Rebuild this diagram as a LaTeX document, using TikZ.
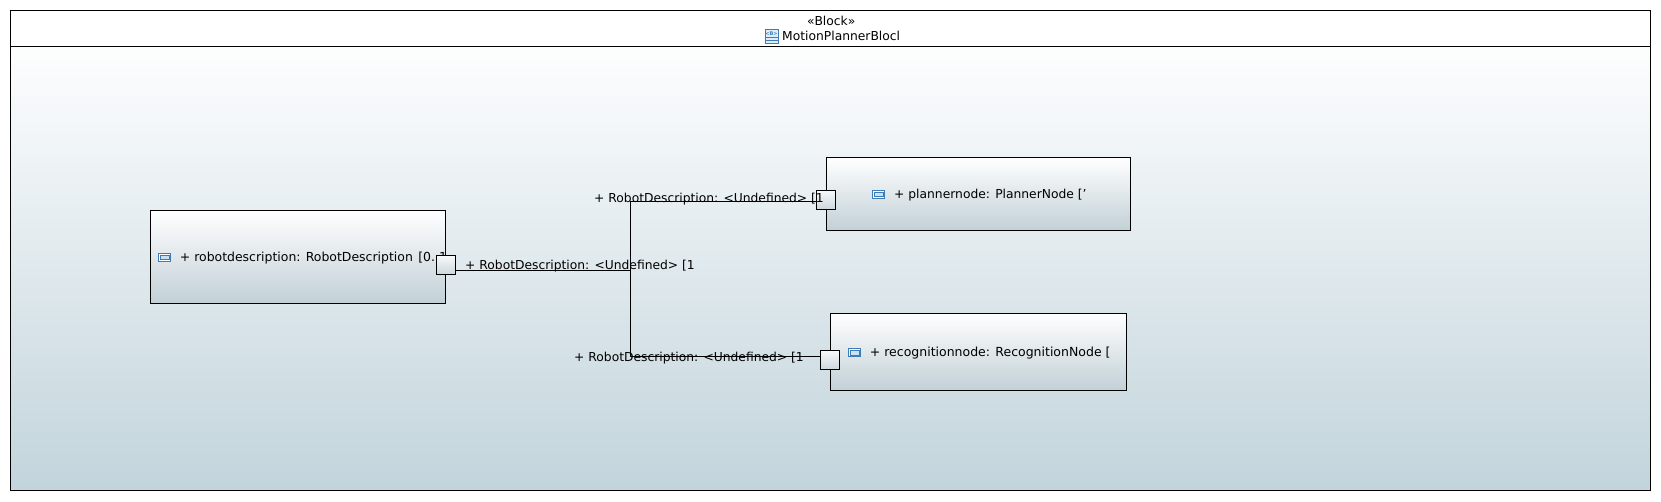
\documentclass[tikz,border=0pt]{standalone}
\usepackage{fontspec}
\setmainfont{DejaVu Sans}
\usepackage{tikz}
\usetikzlibrary{positioning}
\definecolor{bluegrey}{RGB}{194, 212, 220}
\definecolor{partgrey}{RGB}{194, 208, 214}
\definecolor{iconblue}{RGB}{62, 124, 184}
\definecolor{iconfill}{RGB}{200, 224, 244}
\tikzset{
    umltext/.style={font=\fontsize{12.3}{14}\selectfont, anchor=base west, inner sep=0pt},
    partbox/.style={draw=black, line width=0.9pt, rectangle, inner sep=0pt, outer sep=0pt, top color=white, bottom color=partgrey},
    portbox/.style={partbox, minimum width=19.7pt, minimum height=19.5pt, top color=white!90!partgrey, bottom color=white!15!partgrey},
    particon/.style={draw=iconblue, line width=0.9pt, rectangle, inner sep=0pt, outer sep=0pt, minimum width=12.4pt, minimum height=8.4pt, fill=white},
    partinner/.style={draw=iconblue, line width=0.6pt, rectangle, inner sep=0pt, outer sep=0pt, minimum width=8.6pt, minimum height=4.6pt, fill=iconfill},
    wire/.style={draw=black, line width=0.9pt}
}
\begin{document}
\begin{tikzpicture}[x=1pt, y=-1pt]
    \useasboundingbox (0,0) rectangle (1661,501);

    % Frame
    \node[partbox, top color=white!97!bluegrey, bottom color=bluegrey, minimum width=1640pt, minimum height=444pt] (body) at (830.5,268) {};
    \node[draw=black, line width=0.9pt, fill=white, rectangle, inner sep=0pt, outer sep=0pt, minimum width=1640pt, minimum height=35.5pt] (head) at (830.5,28.25) {};
    \node[umltext] (stereo) at (807,25) {«Block»};
    \node[umltext] (title) at (782,40.7) {MotionPlannerBlocl};

    % Block icon
    \node[draw=iconblue, line width=0.9pt, fill=iconfill!60, rectangle, inner sep=0pt, outer sep=0pt, minimum width=13pt, minimum height=14.4pt] (blockicon) at (771.5,36.5) {};
    \draw[iconblue, line width=0.7pt] ([yshift=-1pt]blockicon.west) -- ([yshift=-1pt]blockicon.east);
    \draw[iconblue, line width=0.7pt] ([yshift=-3.8pt]blockicon.west) -- ([yshift=-3.8pt]blockicon.east);
    \node[font=\fontsize{5}{5}\selectfont\bfseries, text=iconblue, inner sep=0pt] (blockmark) at (771.5,33.2) {<B>};

    % Parts
    \node[partbox, minimum width=295pt, minimum height=93pt] (robot) at (298,257) {};
    \node[partbox, minimum width=304pt, minimum height=73pt] (planner) at (978.5,194) {};
    \node[partbox, minimum width=296pt, minimum height=77pt] (recog) at (978.5,352) {};

    % Part labels
    \node[particon] (roboticon) at (164.5,257.3) {};
    \node[partinner] (robotinner) at (roboticon) {};
    \node[umltext, font=\fontsize{12.45}{14}\selectfont] (robotlabel) at (179.7,261.3) {+ robotdescription: RobotDescription\kern1.5pt{} [0..1};

    \node[particon] (plannericon) at (878.5,194.3) {};
    \node[partinner] (plannerinner) at (plannericon) {};
    \node[umltext] (plannerlabel) at (894,198.3) {+ plannernode: PlannerNode [’};

    \node[particon] (recogicon) at (854.5,352.5) {};
    \node[partinner] (recoginner) at (recogicon) {};
    \node[umltext, font=\fontsize{12.5}{14}\selectfont] (recoglabel) at (869.7,356.7) {+ recognitionnode: RecognitionNode [};

    % Ports
    \node[portbox] (robotport) at (445.8,264.75) {};
    \node[portbox] (plannerport) at (825.8,199.75) {};
    \node[portbox] (recogport) at (829.8,359.75) {};

    % Connectors
    \coordinate (junction) at (630.5,270);
    \draw[wire] ([yshift=-5.25pt]robotport.east) -- (junction);
    \draw[wire] (junction) |- ([yshift=-1.75pt]plannerport.west);
    \draw[wire] (junction) |- ([yshift=3.25pt]recogport.west);

    % Port labels
    \node[umltext] (robotportlabel) at (465,269.3) {+ RobotDescription: <Undefined> [1};
    \node[umltext] (plannerportlabel) at (594,202) {+ RobotDescription: <Undefined> [1};
    \node[umltext] (recogportlabel) at (574,361.7) {+ RobotDescription: <Undefined> [1};
\end{tikzpicture}
\end{document}
